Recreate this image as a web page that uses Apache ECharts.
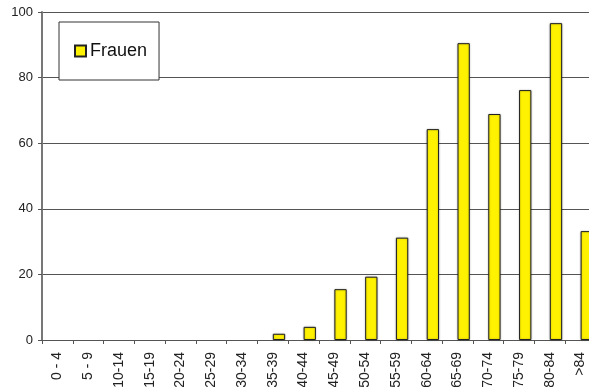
<!DOCTYPE html>
<html>
<head>
<meta charset="utf-8">
<script src="https://cdn.jsdelivr.net/npm/echarts@6/dist/echarts.min.js"></script>
<style>
  html, body { margin: 0; padding: 0; background: #fff; }
  #chart { width: 589px; height: 387px; }
</style>
</head>
<body>
<div id="chart"></div>
<script>
const categories = ["0 - 4", "5 - 9", "10-14", "15-19", "20-24", "25-29", "30-34", "35-39", "40-44",
  "45-49", "50-54", "55-59", "60-64", "65-69", "70-74", "75-79", "80-84", ">84"];
// no bar at all in the youngest groups
const frauen = [null, null, null, null, null, null, null, 1.9, 4.0, 15.5, 19.3, 31.2, 64.3, 90.5, 68.9, 76.2, 96.6, 33.2];
// empty slot to the left of each bar (the chart leaves room for a second series)
const leer = categories.map(() => null);
const yTicks = { min: 0, max: 100, interval: 20 };

const chart = echarts.init(document.getElementById("chart"));

chart.setOption({
  animation: false,
  textStyle: { fontFamily: "Liberation Sans, Arial, sans-serif" },
  grid: { left: 42, top: 12, width: 554, height: 328, containLabel: false, outerBoundsMode: "none" },
  legend: {
    data: [{ name: "Frauen", icon: "rect" }],
    left: 59,
    top: 22,
    padding: [20, 12, 20, 15],
    backgroundColor: "#fff",
    borderColor: "#333",
    borderWidth: 1,
    itemWidth: 11,
    itemHeight: 11,
    itemGap: 5,
    textStyle: { fontSize: 18, color: "#111", padding: [0, 0, 0, -1] }
  },
  xAxis: {
    type: "category",
    data: categories,
    axisLine: { lineStyle: { color: "#555", width: 1 } },
    axisTick: { show: true, length: 4, alignWithLabel: false, lineStyle: { color: "#555" } },
    axisLabel: { rotate: 90, fontSize: 14, color: "#222", margin: 12, interval: 0 }
  },
  yAxis: {
    type: "value",
    min: yTicks.min,
    max: yTicks.max,
    interval: yTicks.interval,
    axisLine: { show: true, lineStyle: { color: "#777", width: 2 } },
    axisTick: { show: true, length: 4, lineStyle: { color: "#555" } },
    axisLabel: { fontSize: 13, color: "#222", margin: 9 },
    splitLine: { lineStyle: { color: "#555", width: 1 } }
  },
  series: [
    {
      name: "Leer",
      type: "bar",
      data: leer,
      barWidth: 12.3,
      barGap: "0%",
      itemStyle: { color: "transparent" }
    },
    {
      name: "Frauen",
      type: "bar",
      data: frauen,
      barWidth: 12.3,
      barGap: "0%",
      itemStyle: {
        color: "#fff200",
        borderColor: "#222",
        borderWidth: 1,
        shadowColor: "rgba(0,0,0,0.3)",
        shadowBlur: 2
      }
    }
  ]
});
</script>
</body>
</html>
